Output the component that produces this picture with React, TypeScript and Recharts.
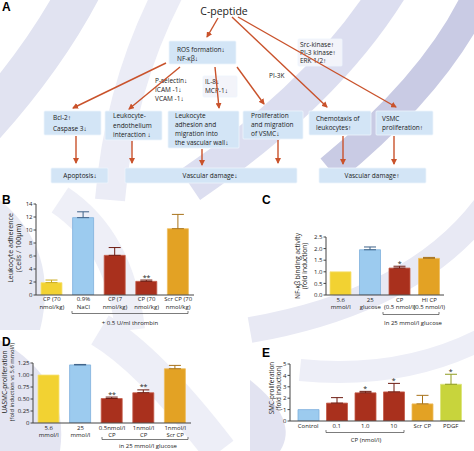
import { ComposedChart, Bar, Cell, XAxis, YAxis, ErrorBar, Scatter } from 'recharts'

const FONT = '"Open Sans", "Noto Sans", sans-serif'

// colours of the bar groups
const FILL: Record<string, string> = { yellow: '#f2d232', blue: '#9ccbef', red: '#a9301d', orange: '#e3a224', lime: '#c8d43c' }
const EDGE: Record<string, string> = { yellow: '#f6e27a', blue: '#7fb0dc', red: '#c45a48', orange: '#eebd60', lime: '#dbe47a' }
const ERR: Record<string, string> = { yellow: '#c9a91c', blue: '#3f6389', red: '#6e1c12', orange: '#a8731a', lime: '#8f9c20' }
const COLOR_KEYS = ['yellow', 'blue', 'red', 'orange', 'lime']

// B: leukocyte adherence
const bLabels = ['CP (70\nnmol/kg)', '0.9%\nNaCl', 'CP (7\nnmol/kg)', 'CP (70\nnmol/kg)', 'Scr CP (70\nnmol/kg)']
const bValues = [1.9, 11.9, 6.1, 2.1, 10.2]
const bErrors = [0.4, 0.9, 1.2, 0.2, 2.2]
const bColors = ['yellow', 'blue', 'red', 'red', 'orange']
const bSig = ['', '', '', '**', '']
const bTicks = [0, 2, 4, 6, 8, 10, 12, 14]

// C: NF-kB binding activity
const cLabels = ['5.6\nmmol/l', '25\nglucose', 'CP\n(0.5 nmol/l)', 'HI CP\n(0.5 nmol/l)']
const cValues = [1.0, 1.95, 1.16, 1.58]
const cErrors = [0, 0.12, 0.08, 0.04]
const cColors = ['yellow', 'blue', 'red', 'orange']
const cSig = ['', '', '*', '']
const cTicks = [0, 0.5, 1, 1.5, 2, 2.5]

// D: UASMC proliferation
const dLabels = ['5.6\nmmol/l', '25\nmmol/l', '0.5nmol/l\nCP', '1nmol/l\nCP', '1nmol/l\nScr CP']
const dValues = [1.0, 1.21, 0.51, 0.63, 1.13]
const dErrors = [0, 0.01, 0.03, 0.06, 0.07]
const dColors = ['yellow', 'blue', 'red', 'red', 'orange']
const dSig = ['', '', '**', '**', '']
const dTicks = [0, 0.25, 0.5, 0.75, 1, 1.25]

// E: SMC proliferation
const eLabels = ['Control', '0.1', '1.0', '10', 'Scr CP', 'PDGF']
const eValues = [1.0, 1.57, 2.47, 2.55, 1.5, 3.22]
const eErrors = [0, 0.48, 0.13, 0.75, 0.75, 0.88]
const eColors = ['blue', 'red', 'red', 'red', 'orange', 'lime']
const eSig = ['', '', '*', '*', '', '*']
const eTicks = [0, 1, 2, 3, 4, 5]

function buildRows(labels: string[], values: number[], errors: number[], colors: string[], sig: string[]) {
    return labels.map((label, i) => {
        const row: any = { label, value: values[i], top: values[i] + errors[i], color: colors[i], sig: sig[i] }
        COLOR_KEYS.forEach(k => {
            row['err_' + k] = colors[i] === k && errors[i] > 0 ? [0, errors[i]] : null
        })
        return row
    })
}

const makeTick = (offsets: number[]) => (props: any) => {
    const { x, y, payload } = props
    const lines = String(payload.value).split('\n')
    return (
        <text x={x} y={y} textAnchor="middle" fontSize={6} fill="#1a1a1a" fontFamily={FONT}>
            {lines.map((l, i) => <tspan key={i} x={x} y={y + offsets[i]}>{l}</tspan>)}
        </text>
    )
}

const Star = (props: any) => {
    const { cx, cy, payload } = props
    if (!payload || !payload.sig) return <g />
    return <text x={cx} y={cy - 0.5} textAnchor="middle" fontSize={7} fill="#1a1a1a" fontFamily={FONT}>{payload.sig}</text>
}

interface PanelProps {
    rows: any[]
    left: number
    top: number
    width: number
    height: number
    right: number
    yWidth: number
    xHeight: number
    domain: [number, number]
    ticks: number[]
    fmt: (v: number) => string
    offsets: number[]
    padLeft?: number
}

function Panel({ rows, left, top, width, height, right, yWidth, xHeight, domain, ticks, fmt, offsets, padLeft = 0 }: PanelProps) {
    const keys = COLOR_KEYS.filter(k => rows.some(r => r['err_' + k]))
    return (
        <div style={{ position: 'absolute', left, top }}>
            <ComposedChart width={width} height={height} data={rows} margin={{ top: 9, right, bottom: 0, left: 0 }}>
                <XAxis
                    dataKey="label"
                    height={xHeight}
                    tickSize={0}
                    tickMargin={0}
                    interval={0}
                    padding={{ left: padLeft, right: 0 }}
                    axisLine={{ stroke: '#444' }}
                    tick={makeTick(offsets)}
                />
                <YAxis
                    width={yWidth}
                    domain={domain}
                    ticks={ticks}
                    interval={0}
                    allowDataOverflow
                    tickSize={2.5}
                    tickMargin={1}
                    tickFormatter={fmt}
                    axisLine={{ stroke: '#444' }}
                    tickLine={{ stroke: '#444' }}
                    tick={{ fontSize: 6, fill: '#1a1a1a', fontFamily: FONT }}
                />
                <Bar dataKey="value" barSize={21} isAnimationActive={false}>
                    {rows.map((r, i) => <Cell key={i} fill={FILL[r.color]} stroke={EDGE[r.color]} strokeWidth={0.8} />)}
                    {keys.map(k => (
                        <ErrorBar key={k} dataKey={'err_' + k} width={6} stroke={ERR[k]} strokeWidth={1} isAnimationActive={false} />
                    ))}
                </Bar>
                <Scatter dataKey="top" shape={Star} isAnimationActive={false} />
            </ComposedChart>
        </div>
    )
}

// diagram pieces (panel A)
const boxes = [
    { x: 169, y: 41, w: 67, h: 23, tx: 177, lines: ['ROS formation↓', 'NF-κβ↓'], ly: [52, 60.5], fill: '#d3e5f6' },
    { x: 298, y: 39, w: 44, h: 27, tx: 300, lines: ['Src-kinase↑', 'PI-3 kinase↑', 'ERK 1/2↑'], ly: [46.5, 54.5, 63], fill: '#f3f4fa' },
    { x: 203, y: 76, w: 34, h: 21, tx: 205, lines: ['IL-8↓', 'MCP-1↓'], ly: [84, 93], fill: '#f3f4fa' },
    { x: 44, y: 111, w: 57, h: 24, tx: 53, lines: ['Bcl-2↑', 'Caspase 3↓'], ly: [119.5, 130.5], fill: '#d3e5f6' },
    { x: 105, y: 111, w: 57, h: 29, tx: 113, lines: ['Leukocyte-', 'endothelium', 'interaction ↓'], ly: [118, 127.5, 137], fill: '#d3e5f6' },
    { x: 168, y: 111, w: 71, h: 37, tx: 175, lines: ['Leukocyte', 'adhesion and', 'migration into', 'the vascular wall↓'], ly: [118, 127, 136, 145], fill: '#d3e5f6' },
    { x: 243, y: 111, w: 60, h: 28, tx: 251, lines: ['Proliferation', 'and migration', 'of VSMC↓'], ly: [118, 127, 136], fill: '#d3e5f6' },
    { x: 309, y: 111, w: 62, h: 24, tx: 316, lines: ['Chemotaxis of', 'leukocytes↑'], ly: [120.5, 129.5], fill: '#d3e5f6' },
    { x: 376, y: 111, w: 57, h: 24, tx: 382, lines: ['VSMC', 'proliferation↑'], ly: [120.5, 129.5], fill: '#d3e5f6' },
]

const outcomeBoxes = [
    { x: 51, y: 168, w: 57, h: 15, cx: 80, text: 'Apoptosis↓' },
    { x: 125, y: 168, w: 172, h: 15, cx: 210, text: 'Vascular damage↓' },
    { x: 319, y: 168, w: 107, h: 15, cx: 372, text: 'Vascular damage↑' },
]

const arrows = [
    [218, 18, 207, 37], [232, 17, 327, 107], [238, 17, 396, 107],
    [166, 63, 73, 108], [180, 67, 129, 109], [215, 67, 219, 108], [237, 67, 264, 104],
    [76, 136, 76, 163], [132, 141, 132, 163], [202, 149, 202, 165], [278, 140, 278, 163],
    [343, 136, 343, 164], [394, 136, 394, 164],
]

const txt = { fontFamily: FONT, fill: '#1a1a1a' }

function Background() {
    return (
        <svg width={474} height={451} style={{ position: 'absolute', left: 0, top: 0 }}>
            <rect width={474} height={451} fill="#ffffff" />
            <path d="M 85 -20 Q 45 60 -30 140" stroke="#e1e3f1" strokeWidth={42} fill="none" />
            <path d="M 175 -20 Q 120 80 110 200" stroke="#ebecf6" strokeWidth={30} fill="none" />
            <path d="M 395 -20 Q 330 90 190 185" stroke="#dcdef0" strokeWidth={36} fill="none" />
            <path d="M 480 -10 Q 440 80 330 170" stroke="#c9cbe4" strokeWidth={30} fill="none" />
            <path d="M 0 200 Q 60 250 40 330 L 0 330 Z" fill="#e8eaf4" />
            <path d="M 60 200 Q 120 240 130 330" stroke="#eeeff7" strokeWidth={30} fill="none" />
            <path d="M 490 200 Q 420 300 250 330" stroke="#e8e9f4" strokeWidth={26} fill="none" />
            <path d="M 0 340 Q 70 380 60 451 L 0 451 Z" fill="#e4e5f2" />
            <path d="M 250 380 Q 300 420 280 451 L 250 451 Z" fill="#e2e3f1" />
            <path d="M 100 330 Q 150 360 220 451" stroke="#edeef7" strokeWidth={34} fill="none" />
            <path d="M 480 340 Q 400 380 300 370" stroke="#edeef7" strokeWidth={22} fill="none" />
        </svg>
    )
}

function Overlay() {
    const bold = { fontSize: 12, fontWeight: 'bold' as const, fontFamily: 'Liberation Sans, Arial, sans-serif', fill: '#000' }
    return (
        <svg width={474} height={451} style={{ position: 'absolute', left: 0, top: 0 }}>
            <defs>
                <marker id="ah" markerWidth={6} markerHeight={6} refX={5} refY={3} orient="auto" markerUnits="userSpaceOnUse">
                    <path d="M0,0 L6,3 L0,6 Z" fill="#c9522b" />
                </marker>
            </defs>
            {/* panel letters */}
            <text x={2} y={11} {...bold}>A</text>
            <text x={2} y={204} {...bold}>B</text>
            <text x={262} y={204} {...bold}>C</text>
            <text x={2} y={346} {...bold}>D</text>
            <text x={262} y={357} {...bold}>E</text>

            {/* diagram */}
            <text x={224} y={15} fontSize={10.5} textAnchor="middle" {...txt}>C-peptide</text>
            {boxes.map((b, i) => (
                <g key={i}>
                    <rect x={b.x} y={b.y} width={b.w} height={b.h} fill={b.fill} stroke="#eef5fc" strokeWidth={0.8} rx={1} />
                    {b.lines.map((l, j) => (
                        <text key={j} x={b.tx} y={b.ly[j]} fontSize={6.5} {...txt}>{l}</text>
                    ))}
                </g>
            ))}
            {outcomeBoxes.map((b, i) => (
                <g key={i}>
                    <rect x={b.x} y={b.y} width={b.w} height={b.h} fill="#d3e5f6" stroke="#eef5fc" strokeWidth={0.8} rx={1} />
                    <text x={b.cx} y={b.y + 10} fontSize={6.5} textAnchor="middle" {...txt}>{b.text}</text>
                </g>
            ))}
            {['P-selectin↓', 'ICAM -1↓', 'VCAM -1↓'].map((l, j) => (
                <text key={j} x={155} y={82.5 + j * 9} fontSize={6.5} {...txt}>{l}</text>
            ))}
            <text x={269} y={78} fontSize={6.5} {...txt}>PI-3K</text>
            {arrows.map((a, i) => (
                <line key={i} x1={a[0]} y1={a[1]} x2={a[2]} y2={a[3]} stroke="#c9522b" strokeWidth={1.4} markerEnd="url(#ah)" />
            ))}

            {/* axis titles */}
            <text transform="translate(13,248) rotate(-90)" textAnchor="middle" fontSize={7} {...txt}>Leukocyte adherence</text>
            <text transform="translate(21,248) rotate(-90)" textAnchor="middle" fontSize={7} {...txt}>(Cells / 100µm)</text>
            <text transform="translate(300,266) rotate(-90)" textAnchor="middle" fontSize={6.6} {...txt}>NF-κβ binding activity</text>
            <text transform="translate(307,266) rotate(-90)" textAnchor="middle" fontSize={6.6} {...txt}>(fold induction)</text>
            <text transform="translate(7,382) rotate(-90)" textAnchor="middle" fontSize={6.6} {...txt}>UASMC-proliferation</text>
            <text transform="translate(14,382) rotate(-90)" textAnchor="middle" fontSize={5.8} {...txt}>(fold induction vs 5.6 mmol/l)</text>
            <text transform="translate(274,388) rotate(-90)" textAnchor="middle" fontSize={6.4} {...txt}>SMC-proliferation</text>
            <text transform="translate(281,388) rotate(-90)" textAnchor="middle" fontSize={6.4} {...txt}>(fold induction)</text>

            {/* group brackets */}
            <path d="M 72 311 V 313.5 H 188 V 311" stroke="#444" strokeWidth={0.7} fill="none" />
            <text x={130} y={325} fontSize={6} textAnchor="middle" {...txt}>+ 0.5 U/ml thrombin</text>
            <path d="M 383 312 V 314.5 H 439 V 312" stroke="#444" strokeWidth={0.7} fill="none" />
            <text x={413} y={325} fontSize={6} textAnchor="middle" {...txt}>In 25 mmol/l glucose</text>
            <path d="M 102 437 V 439.5 H 188 V 437" stroke="#444" strokeWidth={0.7} fill="none" />
            <text x={148} y={448} fontSize={6} textAnchor="middle" {...txt}>in 25 mmol/l glucose</text>
            <path d="M 326 430 V 432.5 H 404 V 430" stroke="#444" strokeWidth={0.7} fill="none" />
            <text x={366} y={442} fontSize={6} textAnchor="middle" {...txt}>CP (nmol/l)</text>
        </svg>
    )
}

const rowsB = buildRows(bLabels, bValues, bErrors, bColors, bSig)
const rowsC = buildRows(cLabels, cValues, cErrors, cColors, cSig)
const rowsD = buildRows(dLabels, dValues, dErrors, dColors, dSig)
const rowsE = buildRows(eLabels, eValues, eErrors, eColors, eSig)

export default function App() {
    return (
        <div style={{ position: 'absolute', left: 0, top: 0, width: 474, height: 451, overflow: 'hidden', background: '#fff' }}>
            <Background />
            <Panel rows={rowsB} left={0} top={195} width={200} height={130} right={6} yWidth={36} xHeight={30}
                domain={[0, 14]} ticks={bTicks} fmt={v => String(v)} offsets={[5.5, 13.5]} />
            <Panel rows={rowsC} left={290} top={228} width={160} height={100} right={6} yWidth={36} xHeight={33}
                domain={[0, 2.5]} ticks={cTicks} fmt={v => v.toFixed(1)} offsets={[7, 14]} />
            <Panel rows={rowsD} left={0} top={354} width={197} height={97} right={6} yWidth={33} xHeight={28}
                domain={[0, 1.25]} ticks={dTicks} fmt={v => (v === 0 ? '0' : v.toFixed(2))} offsets={[6.5, 13.5]} />
            <Panel rows={rowsE} left={254} top={355} width={215} height={96} right={4} yWidth={36} xHeight={30}
                domain={[0, 5]} ticks={eTicks} fmt={v => String(v)} offsets={[7, 14]} padLeft={4} />
            <Overlay />
        </div>
    )
}
